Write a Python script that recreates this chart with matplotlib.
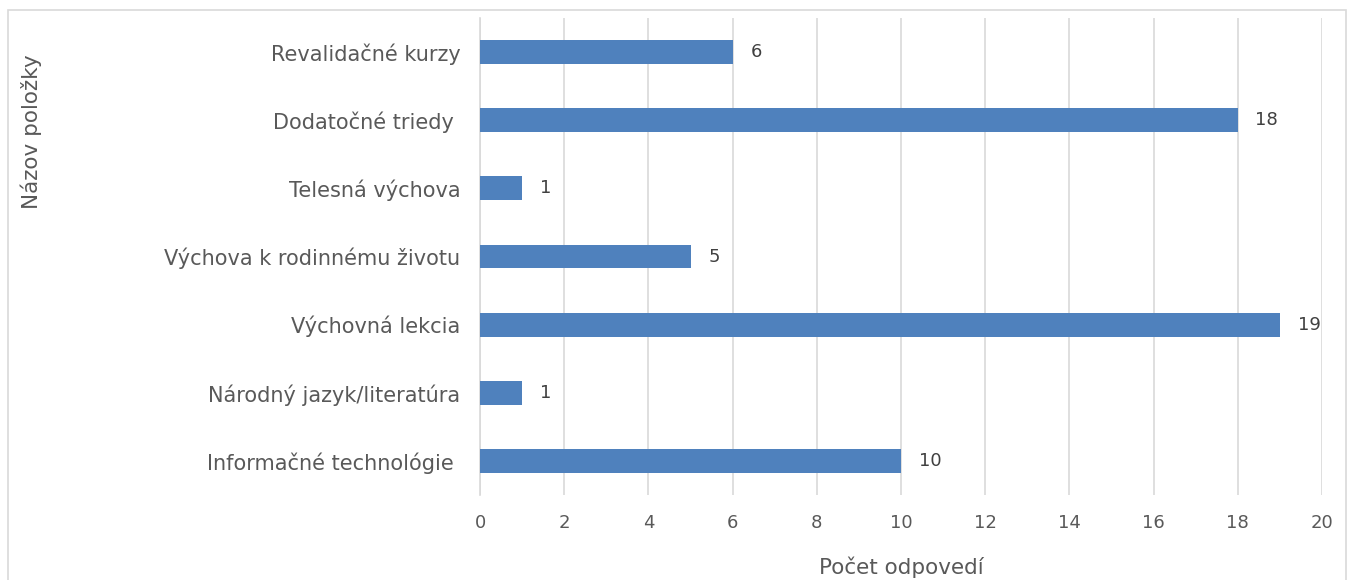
import matplotlib
matplotlib.use("Agg")
import matplotlib.pyplot as plt
from matplotlib.patches import Rectangle

categories = ["Revalidačné kurzy", "Dodatočné triedy ", "Telesná výchova", "Výchova k rodinnému životu",
              "Výchovná lekcia", "Národný jazyk/literatúra", "Informačné technológie "]
values = [6, 18, 1, 5, 19, 1, 10]
xticks = [0, 2, 4, 6, 8, 10, 12, 14, 16, 18, 20]

plt.rcParams['font.family'] = ['DejaVu Sans']
W, H = 1349, 580
fig = plt.figure(figsize=(W / 100, H / 100), dpi=100)
ax = fig.add_axes([480 / W, 1 - 495 / H, (1322 - 480) / W, (495 - 18) / H])

txt = "#595959"
ypos = list(range(len(categories)))[::-1]
ax.barh(ypos, values, height=0.35, color="#4F81BD", zorder=3)
for y, v in zip(ypos, values):
    ax.text(v + 0.42, y, str(v), va="center", ha="left", fontsize=13, color="#404040")

ax.set_xlim(0, 20)
ax.set_ylim(-0.5, len(categories) - 0.5)
ax.set_xticks(xticks)
ax.set_xticklabels([str(t) for t in xticks])
ax.set_yticks(ypos)
ax.set_yticklabels(categories)
ax.tick_params(axis="y", length=0, pad=14, labelsize=15, labelcolor=txt)
ax.tick_params(axis="x", length=0, pad=14, labelsize=13, labelcolor=txt)
ax.grid(axis="x", color="#D9D9D9", linewidth=1.2, zorder=0)
for s in ["top", "right", "bottom"]:
    ax.spines[s].set_visible(False)
ax.spines["left"].set_color("#D9D9D9")
ax.spines["left"].set_linewidth(1.2)

fig.text(901 / W, 1 - 567 / H, "Počet odpovedí", ha="center", va="center", fontsize=15.5, color=txt)
fig.text(31 / W, 1 - 132 / H, "Názov položky", ha="center", va="center", rotation=90, fontsize=15.5, color=txt)

fig.patches.append(Rectangle((8 / W, -0.05), (1346 - 8) / W, 1.05 - 10 / H, transform=fig.transFigure,
                             fill=False, edgecolor="#D9D9D9", linewidth=1.2))

fig.savefig("out.png", dpi=100, facecolor="white")
